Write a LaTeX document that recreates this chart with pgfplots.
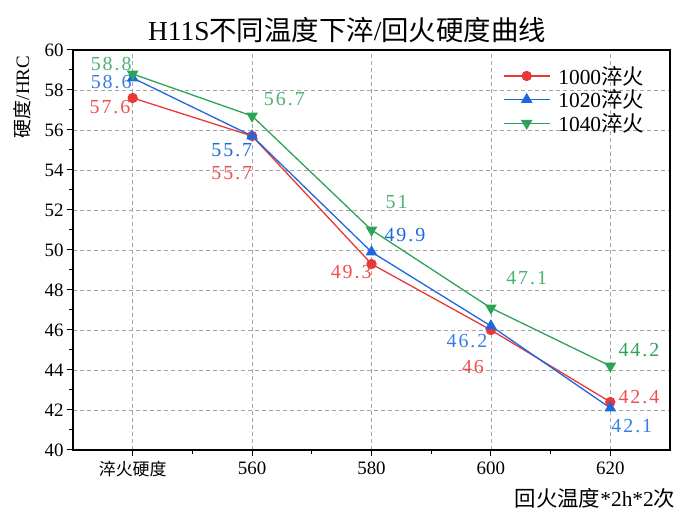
\documentclass[border=0pt]{standalone}
\usepackage{fontspec}
\setmainfont{Liberation Serif}
\newfontfamily\cjk{Noto Sans CJK SC}
\newfontfamily\lab[LetterSpace=10]{Liberation Serif}
\usepackage{pgfplots}
\pgfplotsset{compat=1.18}
\definecolor{cred}{RGB}{232,56,56}
\definecolor{cblue}{RGB}{28,104,222}
\definecolor{cgreen}{RGB}{44,163,86}
\definecolor{lred}{RGB}{240,78,78}
\definecolor{lblue}{RGB}{55,125,228}
\definecolor{lgreen}{RGB}{75,178,112}
\definecolor{gridgray}{RGB}{165,165,165}
\begin{document}
\begin{tikzpicture}[x=1bp,y=1bp]
\path[use as bounding box] (0,0) rectangle (693,519);
\begin{axis}[
  at={(73bp,69bp)}, anchor=south west,
  scale only axis, width=597bp, height=400bp,
  xmin=-0.5, xmax=4.5, ymin=40, ymax=60,
  xtick={0,1,2,3,4},
  xticklabels={{\cjk\fontsize{17}{20}\selectfont 淬火硬度},560,580,600,620},
  ytick={40,42,...,60},
  minor x tick num=1, minor y tick num=1,
  tick pos=left, tick align=outside,
  major tick length=6bp, minor tick length=4bp,
  tick style={black, line width=1bp},
  grid=major,
  major grid style={gridgray, line width=0.8bp, dash pattern=on 4bp off 3bp},
  axis line style={line width=1.2bp},
  /pgf/number format/assume math mode=true,
  ticklabel style={font=\fontsize{19}{22}\selectfont},
  xticklabel style={yshift=-2bp},
  legend style={at={(rel axis cs:0.715,0.97)}, anchor=north west, draw=none, fill=none,
    font=\fontsize{21.5}{25}\selectfont, row sep=0bp, column sep=6bp},
  legend cell align=left,
  legend image code/.code={\draw[mark repeat=2,mark phase=2,#1] plot coordinates {(0bp,0bp) (23bp,0bp) (46bp,0bp)};},
]
\addplot[cred, line width=1.3bp, mark=*, mark size=4.5bp] coordinates {(0,57.6)(1,55.7)(2,49.3)(3,46)(4,42.4)};
\addlegendentry{1000{\cjk 淬火}}
\addplot[cblue, line width=1.3bp, mark=triangle*, mark size=5.5bp] coordinates {(0,58.6)(1,55.7)(2,49.9)(3,46.2)(4,42.1)};
\addlegendentry{1020{\cjk 淬火}}
\addplot[cgreen, line width=1.3bp, mark=triangle*, mark size=5.5bp, mark options={rotate=180}] coordinates {(0,58.8)(1,56.7)(2,51)(3,47.1)(4,44.2)};
\addlegendentry{1040{\cjk 淬火}}
\begin{scope}[every node/.style={font=\lab\fontsize{20}{22}\selectfont, inner sep=0pt}]
\node[text=lred] at (-0.19,57.15) {57.6};
\node[text=lred] at (0.83,53.85) {55.7};
\node[text=lred] at (1.83,48.9) {49.3};
\node[text=lred] at (2.85,44.15) {46};
\node[text=lred] at (4.24,42.65) {42.4};
\node[text=lblue] at (-0.18,58.4) {58.6};
\node[text=cblue] at (0.83,55.0) {55.7};
\node[text=cblue] at (2.28,50.75) {49.9};
\node[text=lblue] at (2.8,45.45) {46.2};
\node[text=lblue] at (4.18,41.2) {42.1};
\node[text=lgreen] at (-0.18,59.3) {58.8};
\node[text=lgreen] at (1.27,57.55) {56.7};
\node[text=lgreen] at (2.21,52.4) {51};
\node[text=lgreen] at (3.3,48.6) {47.1};
\node[text=cgreen] at (4.24,45.0) {44.2};
\end{scope}
\end{axis}
\node[font=\fontsize{27.5}{31}\selectfont] at (347,489) {H11S{\cjk 不同温度下淬}/{\cjk 回火硬度曲线}};
\node[rotate=90, font=\fontsize{19}{22}\selectfont] at (22,422) {{\cjk 硬度}/HRC};
\node[font=\fontsize{21.5}{24}\selectfont] at (595,21) {{\cjk 回火温度}*2h*2{\cjk 次}};
\end{tikzpicture}
\end{document}
